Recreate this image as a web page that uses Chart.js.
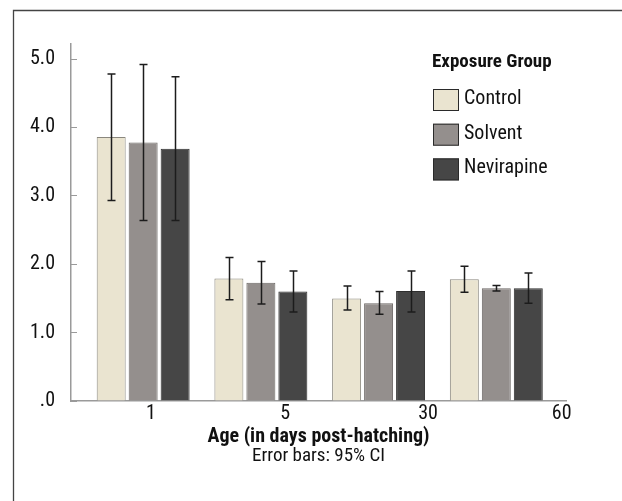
<!DOCTYPE html>
<html>
<head>
<meta charset="utf-8">
<script src="https://cdn.jsdelivr.net/npm/chart.js@4.4.1/dist/chart.umd.min.js"></script>
<style>
  html, body { margin: 0; padding: 0; background: #ffffff; }
  #wrap { width: 622px; height: 501px; }
</style>
</head>
<body>
<div id="wrap"><canvas id="c" width="622" height="501"></canvas></div>
<script>
// Age groups (days post-hatching) and exposure groups
const ages = ['1', '5', '30', '60'];
const groupNames = ['Control', 'Solvent', 'Nevirapine'];

// Group means with 95% confidence limits
const controlMean = [3.86, 1.79, 1.50, 1.78];
const controlLow  = [2.93, 1.48, 1.33, 1.59];
const controlHigh = [4.78, 2.10, 1.68, 1.97];

const solventMean = [3.78, 1.73, 1.43, 1.65];
const solventLow  = [2.64, 1.42, 1.27, 1.61];
const solventHigh = [4.92, 2.04, 1.60, 1.69];

const nevirapineMean = [3.69, 1.60, 1.61, 1.65];
const nevirapineLow  = [2.64, 1.30, 1.30, 1.43];
const nevirapineHigh = [4.74, 1.90, 1.90, 1.87];

// Axis ticks
const yTickValues = [0, 1, 2, 3, 4, 5];
const ageTickSpots = [0.066, 1.206, 2.42, 3.555];

const FONT = "'Roboto Condensed', 'Liberation Sans Narrow', 'Arial Narrow', 'DejaVu Sans Condensed', sans-serif";

const fills   = ['#eae4d0', '#948f8d', '#464646'];
const borders = ['#8a877e', '#6c6866', '#2e2e2e'];

const means = [controlMean, solventMean, nevirapineMean];
const lows  = [controlLow, solventLow, nevirapineLow];
const highs = [controlHigh, solventHigh, nevirapineHigh];

const datasets = groupNames.map((name, g) => ({
  label: name,
  data: ages.map((a, i) => ({ x: i, y: means[g][i] })),
  backgroundColor: fills[g],
  borderColor: borders[g],
  borderWidth: 1,
  categoryPercentage: 0.815,
  barPercentage: 0.906,
  ciLow: lows[g],
  ciHigh: highs[g]
}));

// Outer frame: top and left rules
const framePlugin = {
  id: 'frame',
  beforeDraw(chart) {
    const ctx = chart.ctx;
    ctx.save();
    ctx.strokeStyle = '#444444';
    ctx.lineWidth = 1.3;
    ctx.beginPath();
    ctx.moveTo(13.5, 501);
    ctx.lineTo(13.5, 10.5);
    ctx.lineTo(622, 10.5);
    ctx.stroke();
    ctx.restore();
  }
};

// 95% CI whiskers with caps
const errorBarPlugin = {
  id: 'errorBars',
  afterDatasetsDraw(chart) {
    const ctx = chart.ctx;
    const yScale = chart.scales.y;
    ctx.save();
    ctx.strokeStyle = '#1c1c1c';
    ctx.lineWidth = 1.5;
    chart.data.datasets.forEach((ds, di) => {
      const meta = chart.getDatasetMeta(di);
      meta.data.forEach((bar, i) => {
        const x = Math.round(bar.x) + 0.5;
        const yHi = yScale.getPixelForValue(ds.ciHigh[i]);
        const yLo = yScale.getPixelForValue(ds.ciLow[i]);
        const cap = 4;
        ctx.beginPath();
        ctx.moveTo(x, yHi); ctx.lineTo(x, yLo);
        ctx.moveTo(x - cap, yHi); ctx.lineTo(x + cap, yHi);
        ctx.moveTo(x - cap, yLo); ctx.lineTo(x + cap, yLo);
        ctx.stroke();
      });
    });
    ctx.restore();
  }
};

// Legend block: title plus swatches, upper right of the plot
const legendPlugin = {
  id: 'groupLegend',
  afterDraw(chart) {
    const ctx = chart.ctx;
    const left = 432;
    ctx.save();
    ctx.fillStyle = '#111111';
    ctx.textBaseline = 'middle';
    ctx.textAlign = 'left';
    ctx.font = "bold 19px " + FONT;
    ctx.fillText('Exposure Group', left, 62);
    ctx.font = "20px " + FONT;
    chart.data.datasets.forEach((ds, i) => {
      const top = 89 + i * 34.7;
      ctx.fillStyle = ds.backgroundColor;
      ctx.fillRect(left + 1, top, 26, 22);
      ctx.strokeStyle = '#2a2a2a';
      ctx.lineWidth = 1;
      ctx.strokeRect(left + 1.5, top + 0.5, 25, 21);
      ctx.fillStyle = '#111111';
      ctx.fillText(ds.label, left + 32, top + 10);
    });
    ctx.restore();
  }
};

new Chart(document.getElementById('c'), {
  type: 'bar',
  data: { datasets },
  options: {
    responsive: false,
    animation: false,
    devicePixelRatio: 1,
    layout: { padding: { top: 44, right: 56, bottom: 0, left: 0 } },
    plugins: {
      legend: { display: false },
      tooltip: { enabled: false },
      subtitle: {
        display: true,
        position: 'bottom',
        text: 'Error bars: 95% CI',
        color: '#111111',
        font: { family: FONT, size: 19, lineHeight: 1 },
        padding: { top: 0, bottom: 35 },
        fullSize: false
      }
    },
    scales: {
      x: {
        type: 'linear',
        min: -0.613,
        max: 3.592,
        offset: false,
        afterBuildTicks(scale) {
          scale.ticks = ageTickSpots.map(v => ({ value: v }));
        },
        afterFit(scale) { scale.height = 46; },
        grid: { display: true, drawOnChartArea: false, drawTicks: false, offset: false, color: 'rgba(0,0,0,0)' },
        border: { display: true, color: '#9a9a9a', width: 1.5 },
        ticks: {
          autoSkip: false,
          maxRotation: 0,
          padding: 1,
          color: '#111111',
          font: { family: FONT, size: 20 },
          callback: (v, i) => ages[i]
        },
        title: {
          display: true,
          text: 'Age (in days post-hatching)',
          color: '#111111',
          font: { family: FONT, size: 20, weight: 'bold', lineHeight: 1 },
          padding: { top: 0, bottom: 0 }
        }
      },
      y: {
        min: 0,
        max: 5.22,
        afterBuildTicks(scale) {
          scale.ticks = yTickValues.map(v => ({ value: v }));
        },
        afterFit(scale) { scale.width = 71; },
        grid: { drawOnChartArea: false, drawTicks: true, tickLength: -6, color: '#9a9a9a', lineWidth: 1 },
        border: { display: true, color: '#9a9a9a', width: 1.5 },
        ticks: {
          padding: 22,
          color: '#111111',
          font: { family: FONT, size: 20 },
          callback: v => (v === 0 ? '.0' : v.toFixed(1))
        }
      }
    }
  },
  plugins: [framePlugin, errorBarPlugin, legendPlugin]
});
</script>
</body>
</html>
